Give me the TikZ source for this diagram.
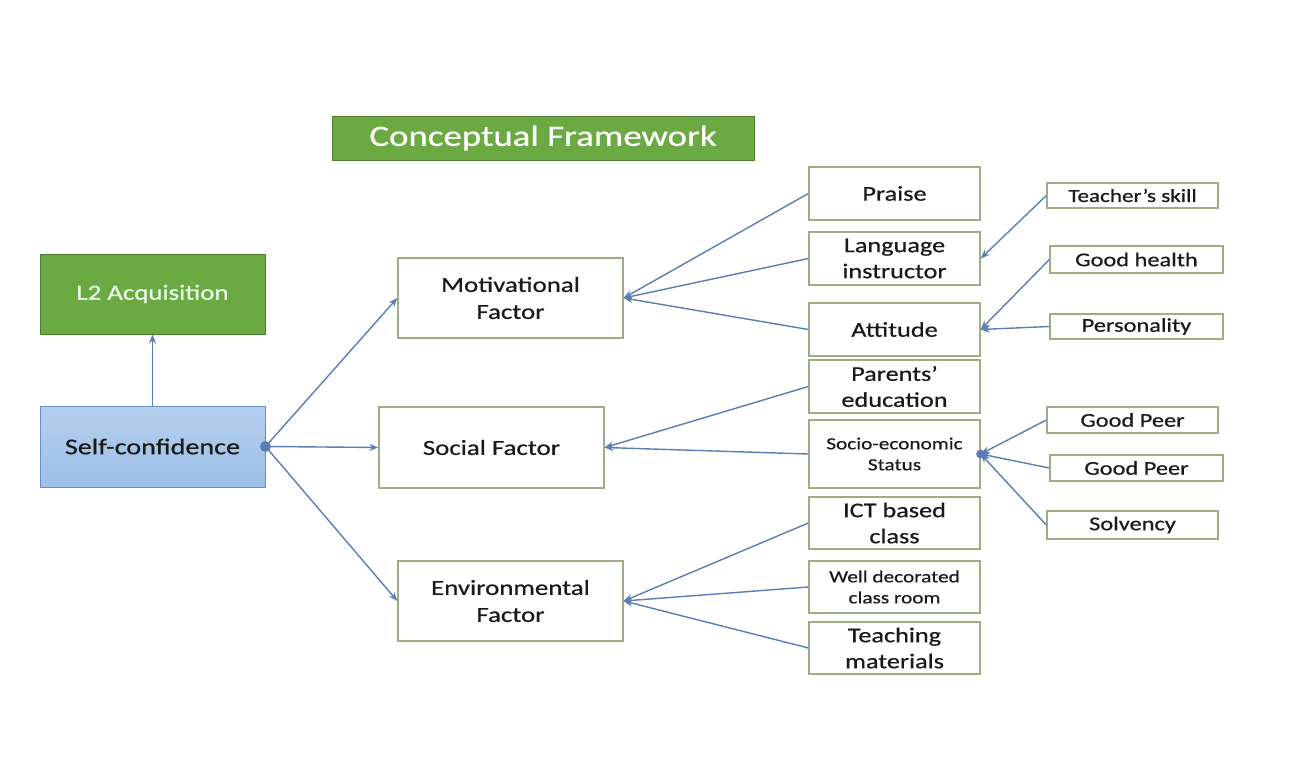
\documentclass[tikz,border=0pt]{standalone}
\usepackage{fontspec}
\setmainfont{Carlito}[FakeStretch=1.25,FakeBold=0.6]
\usetikzlibrary{arrows.meta}
\definecolor{gfill}{HTML}{6BAA43}
\definecolor{gborder}{HTML}{4F7B33}
\definecolor{bfill}{HTML}{9DBFE8}
\definecolor{bborder}{HTML}{6A8FC7}
\definecolor{wborder}{HTML}{9DAE84}
\definecolor{lcol}{HTML}{5A7DB5}
\definecolor{tcol}{HTML}{1A1A1A}
\tikzset{
  box/.style={draw=wborder, line width=1.3pt, fill=white, text=tcol, align=center, inner sep=0pt},
  bigbox/.style={box, minimum width=225pt, minimum height=80pt, font=\fontsize{21.5}{27}\selectfont},
  midbox/.style={box, minimum width=171pt, minimum height=53pt, font=\fontsize{21}{26}\selectfont},
  smallmid/.style={box, minimum width=171pt, minimum height=53pt, font=\fontsize{17}{21}\selectfont},
  rbox/.style={box, minimum width=171pt, minimum height=26pt, font=\fontsize{19.5}{22}\selectfont},
  conn/.style={draw=lcol, line width=1.4pt, -{Stealth[length=9pt,width=7pt]}},
}
\begin{document}
\begin{tikzpicture}[x=1pt,y=-1pt]
\useasboundingbox (0,0) rectangle (1294,784);
% title
\node[draw=gborder, fill=gfill, line width=1pt, text=white, minimum width=422pt, minimum height=44pt, inner sep=0pt, font=\fontsize{29.5}{32}\selectfont] (title) at (543,138) {Conceptual Framework};
% left
\node[draw=gborder, fill=gfill, line width=1pt, text=green!8!white, minimum width=225pt, minimum height=80pt, inner sep=0pt, font=\fontsize{21.5}{26}\selectfont] (l2) at (152.5,294) {L2 Acquisition};
\node[draw=bborder, top color=bfill!75!white, bottom color=bfill, line width=1pt, text=tcol, minimum width=225pt, minimum height=81pt, inner sep=0pt, font=\fontsize{22.5}{26}\selectfont] (sc) at (152.5,446.5) {Self-confidence};
% factors
\node[bigbox] (mot) at (510.5,298) {Motivational\\Factor};
\node[bigbox, minimum height=81pt] (soc) at (491.5,447.5) {Social Factor};
\node[bigbox] (env) at (510.5,601) {Environmental\\Factor};
% middle column
\node[midbox] (praise) at (894.5,193.5) {Praise};
\node[midbox] (lang) at (894.5,258.5) {Language\\instructor};
\node[midbox] (att) at (894.5,329.5) {Attitude};
\node[midbox] (par) at (894.5,386.5) {Parents’\\education};
\node[smallmid, minimum height=68pt] (socio) at (894.5,454) {Socio-economic\\Status};
\node[midbox, minimum height=52pt] (ict) at (894.5,523) {ICT based\\class};
\node[smallmid, minimum height=52pt] (well) at (894.5,587) {Well decorated\\class room};
\node[midbox, minimum height=52pt] (teach) at (894.5,648) {Teaching\\materials};
% right column
\node[rbox, minimum height=25pt, font=\fontsize{18.5}{22}\selectfont] (tskill) at (1132.5,195.5) {Teacher’s skill};
\node[rbox, minimum width=173pt, minimum height=27pt] (health) at (1136.5,259.5) {Good health};
\node[rbox, minimum width=173pt, minimum height=25pt] (pers) at (1136.5,326.5) {Personality};
\node[rbox] (peer1) at (1132.5,420) {Good Peer};
\node[rbox, minimum width=173pt] (peer2) at (1136.5,468) {Good Peer};
\node[rbox, minimum height=28pt] (solv) at (1132.5,525) {Solvency};
% connectors
\draw[conn] (sc.north) -- (l2.south);
\draw[conn] (sc.east) -- (mot.west);
\draw[conn] (sc.east) -- (soc.west);
\draw[conn] (sc.east) -- (env.west);
\fill[lcol] (sc.east) circle (5.5pt);
\draw[conn] (praise.west) -- (mot.east);
\draw[conn] (lang.west) -- (mot.east);
\draw[conn] (att.west) -- (mot.east);
\draw[conn] (par.west) -- (soc.east);
\draw[conn] (socio.west) -- (soc.east);
\draw[conn] (ict.west) -- (env.east);
\draw[conn] (well.west) -- (env.east);
\draw[conn] (teach.west) -- (env.east);
\draw[conn] (tskill.west) -- (lang.east);
\draw[conn] (health.west) -- (att.east);
\draw[conn] (pers.west) -- (att.east);
\draw[conn] (peer1.west) -- (socio.east);
\draw[conn] (peer2.west) -- (socio.east);
\draw[conn] (solv.west) -- (socio.east);
\fill[lcol] (socio.east) circle (4.5pt);
\end{tikzpicture}
\end{document}
